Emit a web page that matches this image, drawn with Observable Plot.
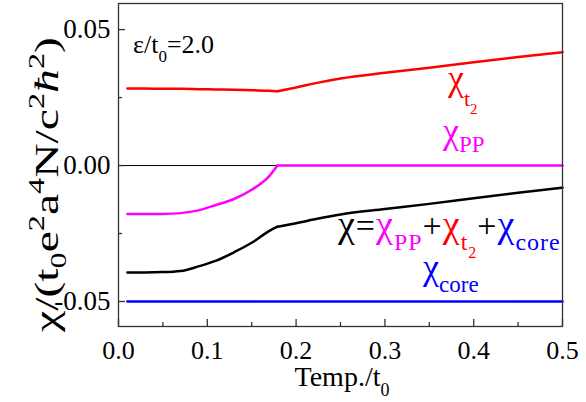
<!DOCTYPE html>
<html><head><meta charset="utf-8">
<script src="https://cdn.jsdelivr.net/npm/d3@7"></script>
<script src="https://cdn.jsdelivr.net/npm/@observablehq/plot@0.6"></script>
<style>
html,body{margin:0;padding:0;background:#fff;}
svg{display:block;}
svg text, svg tspan{font-family:"Liberation Serif","Times New Roman",serif !important;}
</style>
</head><body><div id="chart"></div>
<script>
// ---- data ----
const temp     = [0.01, 0.03, 0.05, 0.07, 0.09, 0.11, 0.13, 0.15, 0.17, 0.179, 0.2, 0.225, 0.25, 0.3, 0.35, 0.4, 0.45, 0.5];
const chiPP    = [-0.0178, -0.0178, -0.0178, -0.0175, -0.0165, -0.0145, -0.0123, -0.0089, -0.0038, 0.0, 0.0, 0.0, 0.0, 0.0, 0.0, 0.0, 0.0, 0.0];
const chiT2    = [0.0283, 0.0283, 0.0282, 0.0282, 0.0281, 0.0280, 0.0279, 0.0277, 0.0275, 0.0273, 0.0287, 0.0305, 0.0320, 0.0341, 0.0360, 0.0380, 0.0399, 0.0417];
const chiTotal = [-0.0393, -0.0393, -0.0392, -0.0388, -0.0371, -0.0350, -0.0319, -0.0284, -0.0240, -0.0225, -0.0212, -0.0195, -0.0180, -0.0160, -0.0141, -0.0120, -0.0100, -0.0081];
const coreTemp = [0.01, 0.5];
const chiCore  = [-0.05, -0.05];
const kinkTemp = 0.179;

const seriesNames  = ["t2", "PP", "total", "core"];
const seriesColors = ["#ff0000", "#ff00ff", "#000000", "#0000ff"];

const xTicks = [0, 0.1, 0.2, 0.3, 0.4, 0.5];
const xMinor = [0.05, 0.15, 0.25, 0.35, 0.45];
const yTicks = [-0.05, 0, 0.05];
const yMinor = [-0.025, 0.025];

// ---- text labels (anchor in data units, parts = [text, size, baseline offset, fill, style]) ----
const epsLabel   = {t: 0.0169, v: 0.0412, parts: [["ε/t", 26, 0], ["0", 17, 9], ["=2.0", 26, 0]]};
const t2Label    = {t: 0.3716, v: 0.0275, parts: [["χ", 36, 0, "#ff0000"], ["t", 22, 16, "#ff0000"], ["2", 15, 24, "#ff0000"]]};
const ppLabel    = {t: 0.3660, v: 0.0081, parts: [["χ", 36, 0, "#ff00ff"], ["PP", 23, 9, "#ff00ff"]]};
const sumLabel   = {t: 0.2477, v: -0.0265, spacing: 1, parts: [
  ["χ", 38, 0, "#000"], ["=", 34, 0, "#000"], ["χ", 38, 0, "#ff00ff"], ["PP", 24, 13, "#ff00ff"],
  ["+", 34, 0, "#000"], ["χ", 38, 0, "#ff0000"], ["t", 24, 13, "#ff0000"], ["2", 16, 21, "#ff0000"],
  ["+", 34, 0, "#000"], ["χ", 38, 0, "#0000ff"], ["core", 24, 13, "#0000ff"]]};
const coreLabel  = {t: 0.3435, v: -0.0419, parts: [["χ", 36, 0, "#0000ff"], ["core", 23, 13, "#0000ff"]]};
const xTitle     = [["Temp./t", 28, 0], ["0", 18, 10]];
const yTitle     = [["χ/(t", 34, 0], ["0", 23, 8], ["e", 34, 0], ["2", 23, -14], ["a", 34, 0], ["4", 23, -14], ["N/c", 34, 0], ["2", 23, -14], ["ħ", 34, 0, null, "italic"], ["2", 23, -14], [")", 34, 0]];

// ---- build table: each curve split at the kink so the corner stays sharp ----
const rows = [];
const addSeries = (name, ts, vs) => ts.forEach((t, i) => {
  if (t <= kinkTemp) rows.push({series: name, seg: name + "-a", t, v: vs[i]});
  if (t >= kinkTemp) rows.push({series: name, seg: name + "-b", t, v: vs[i]});
});
addSeries("t2", temp, chiT2);
addSeries("PP", temp, chiPP);
addSeries("total", temp, chiTotal);
coreTemp.forEach((t, i) => rows.push({series: "core", seg: "core", t, v: chiCore[i]}));

const W = 586, H = 402, mL = 118, mR = 24, mT = 3, mB = 76;
const fw = W - mL - mR, fh = H - mT - mB;
const FONT = "'Liberation Serif', 'Times New Roman', serif";

const plot = Plot.plot({
  width: W, height: H,
  marginLeft: mL, marginRight: mR, marginTop: mT, marginBottom: mB,
  style: {fontFamily: FONT, background: "#fff", color: "#000", overflow: "visible"},
  x: {domain: [0, 0.5]},
  y: {domain: [-0.0592, 0.0596]},
  color: {domain: seriesNames, range: seriesColors},
  marks: [
    Plot.ruleY([0], {stroke: "#000", strokeWidth: 1}),
    Plot.line(rows, {x: "t", y: "v", z: "seg", stroke: "series", strokeWidth: 2.5, curve: "monotone-x"}),
    Plot.tickX(xTicks, {x: d => d, insetTop: fh - 7, stroke: "#333", strokeWidth: 1.3}),
    Plot.tickX(xMinor, {x: d => d, insetTop: fh - 4, stroke: "#333", strokeWidth: 1.3}),
    Plot.tickY(yTicks, {y: d => d, insetRight: fw - 7, stroke: "#333", strokeWidth: 1.3}),
    Plot.tickY(yMinor, {y: d => d, insetRight: fw - 4, stroke: "#333", strokeWidth: 1.3}),
    Plot.axisX(xTicks, {tickSize: 0, tickPadding: 14, tickFormat: d => d.toFixed(1), fontSize: 26, label: null}),
    Plot.axisY(yTicks, {tickSize: 0, tickPadding: 8, tickFormat: d => d.toFixed(2), fontSize: 27, label: null}),
    Plot.frame({stroke: "#333", strokeWidth: 1.3})
  ]
});
document.getElementById("chart").appendChild(plot);

// ---- rich text labels ----
const svg = d3.select(plot);
const sx = plot.scale("x"), sy = plot.scale("y");
function rich(parent, parts, anchor) {
  const text = parent.append("text").attr("font-family", FONT)
    .attr("text-anchor", anchor || "start").attr("fill", "#000").attr("font-size", parts[0][1]);
  let cur = 0;
  for (const [s, size, off, fill, style] of parts) {
    const ts = text.append("tspan").attr("dy", off - cur).attr("font-size", size).text(s);
    if (fill) ts.attr("fill", fill);
    if (style) ts.attr("font-style", style);
    cur = off;
  }
  return text;
}
for (const lab of [epsLabel, t2Label, ppLabel, sumLabel, coreLabel]) {
  const g = svg.append("g").attr("transform", `translate(${sx.apply(lab.t)},${sy.apply(lab.v)})`);
  const tx = rich(g, lab.parts);
  if (lab.spacing) tx.attr("letter-spacing", lab.spacing);
}
// x title: centered under frame
const gx = svg.append("g").attr("transform", `translate(${(sx.apply(0) + sx.apply(0.5)) / 2 + 2},386)`);
rich(gx, xTitle, "middle");
// y title: rotated, stretched along its length to span the frame like the reference
const yCenter = (sy.apply(0.0596) + sy.apply(-0.0592)) / 2 + 20;
const gy = svg.append("g");
const yt = rich(gy, yTitle, "middle");
const natural = yt.node().getComputedTextLength() || 210;
const stretch = 295 / natural;
gy.attr("transform", `translate(58,${yCenter}) rotate(-90) scale(${stretch},1)`);
</script>
</body></html>
